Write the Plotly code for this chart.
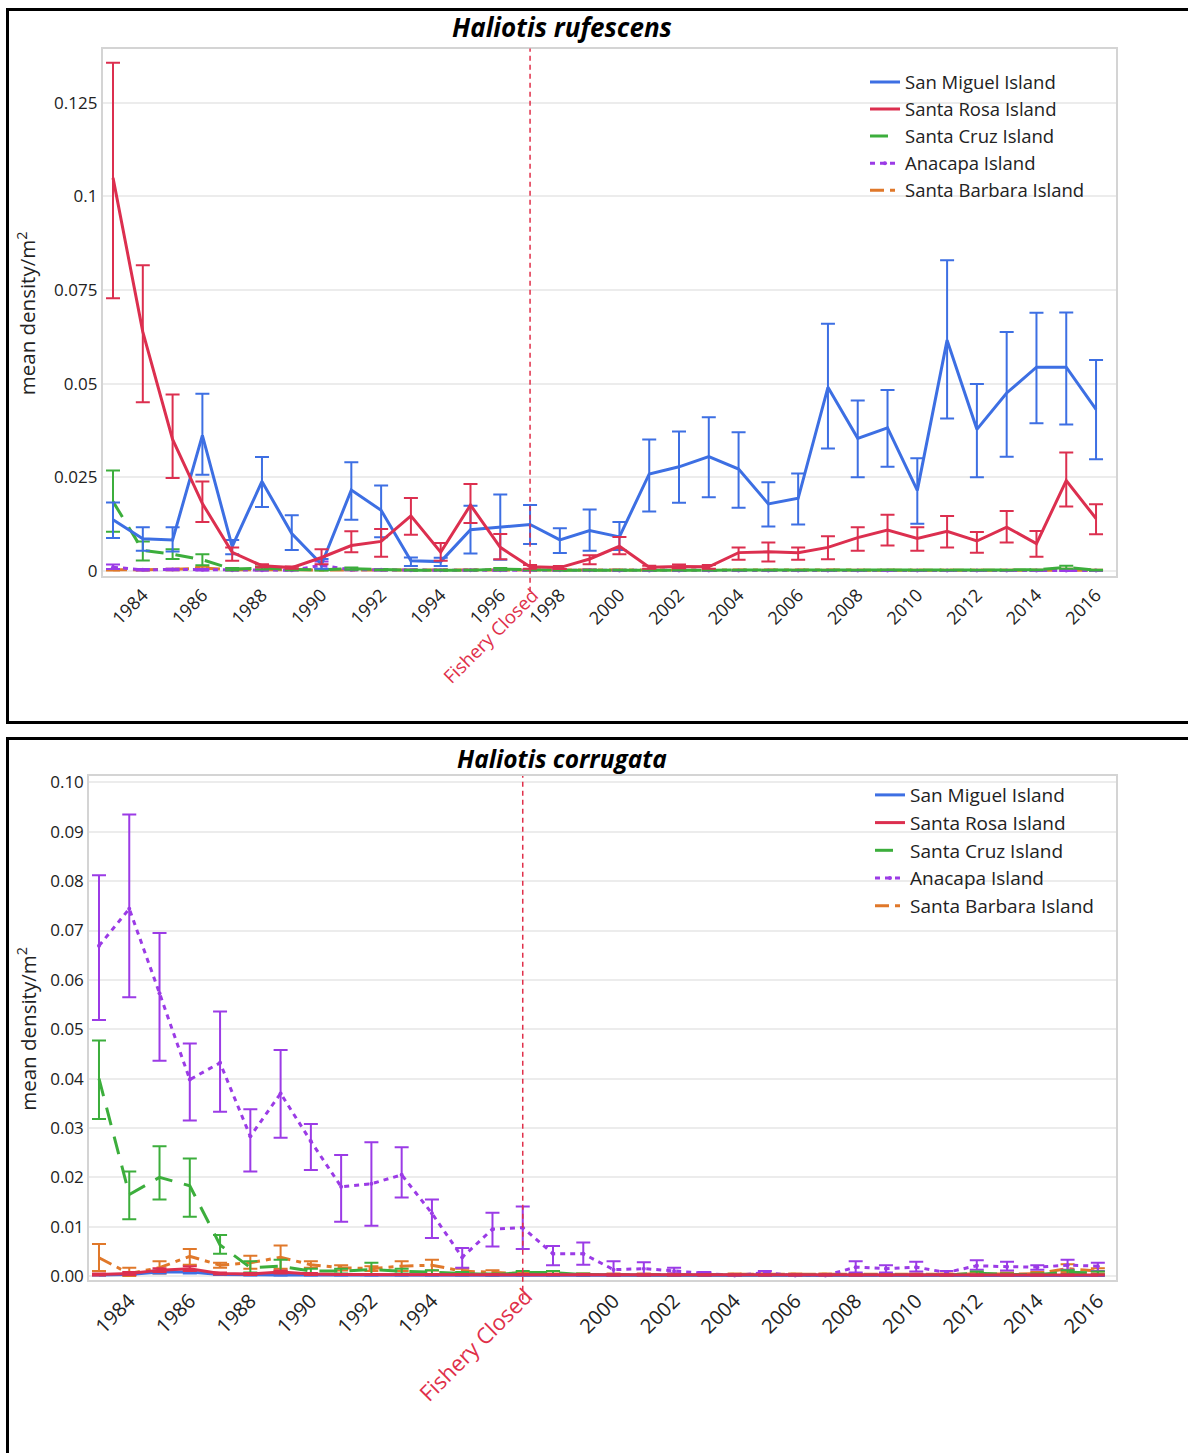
import numpy as np
import plotly.graph_objects as go

W, H = 1188, 1453
FONT = "Open Sans"

years = [1983, 1984, 1985, 1986, 1987, 1988, 1989, 1990, 1991, 1992, 1993, 1994,
         1995, 1996, 1997, 1998, 1999, 2000, 2001, 2002, 2003, 2004, 2005, 2006,
         2007, 2008, 2009, 2010, 2011, 2012, 2013, 2014, 2015, 2016]

islands = ["San Miguel Island", "Santa Rosa Island", "Santa Cruz Island",
           "Anacapa Island", "Santa Barbara Island"]

# ---------------- Haliotis rufescens ----------------
ruf_sm_mean = [0.0137, 0.0086, 0.0083, 0.0362, 0.0065, 0.0239, 0.0100, 0.0018, 0.0216, 0.0162, 0.0027, 0.0025,
               0.0110, 0.0117, 0.0124, 0.0083, 0.0108, 0.0091, 0.0259, 0.0278, 0.0305, 0.0272, 0.0179, 0.0194,
               0.0490, 0.0354, 0.0382, 0.0215, 0.0616, 0.0378, 0.0475, 0.0544, 0.0544, 0.0431]
ruf_sm_up = [0.0183, 0.0117, 0.0117, 0.0473, 0.0083, 0.0304, 0.0149, 0.0032, 0.0290, 0.0228, 0.0036, 0.0035,
             0.0174, 0.0204, 0.0176, 0.0114, 0.0164, 0.0131, 0.0351, 0.0372, 0.0410, 0.0370, 0.0237, 0.0260,
             0.0660, 0.0455, 0.0483, 0.0301, 0.0829, 0.0499, 0.0638, 0.0689, 0.0690, 0.0563]
ruf_sm_lo = [0.0088, 0.0054, 0.0052, 0.0257, 0.0045, 0.0171, 0.0056, 0.0006, 0.0137, 0.0090, 0.0013, 0.0013,
             0.0047, 0.0030, 0.0072, 0.0048, 0.0054, 0.0056, 0.0159, 0.0182, 0.0197, 0.0169, 0.0119, 0.0124,
             0.0327, 0.0250, 0.0278, 0.0126, 0.0407, 0.0250, 0.0305, 0.0394, 0.0391, 0.0298]

ruf_sr_mean = [0.1049, 0.0638, 0.0351, 0.0180, 0.0050, 0.0014, 0.0009, 0.0036, 0.0068, 0.0079, 0.0147, 0.0050,
               0.0176, 0.0063, 0.0011, 0.0009, 0.0032, 0.0066, 0.0010, 0.0012, 0.0011, 0.0049, 0.0051, 0.0049,
               0.0063, 0.0089, 0.0109, 0.0087, 0.0106, 0.0080, 0.0117, 0.0073, 0.0241, 0.0140]
ruf_sr_up = [0.1356, 0.0816, 0.0471, 0.0239, 0.0063, 0.0018, 0.0012, 0.0058, 0.0106, 0.0112, 0.0195, 0.0075,
             0.0232, 0.0099, 0.0016, 0.0013, 0.0042, 0.0091, 0.0014, 0.0017, 0.0016, 0.0063, 0.0076, 0.0063,
             0.0093, 0.0117, 0.0150, 0.0117, 0.0147, 0.0104, 0.0160, 0.0107, 0.0316, 0.0178]
ruf_sr_lo = [0.0728, 0.0450, 0.0248, 0.0131, 0.0027, 0.0010, 0.0006, 0.0018, 0.0050, 0.0038, 0.0097, 0.0027,
             0.0128, 0.0031, 0.0006, 0.0005, 0.0018, 0.0045, 0.0006, 0.0007, 0.0006, 0.0030, 0.0025, 0.0030,
             0.0031, 0.0054, 0.0068, 0.0054, 0.0063, 0.0049, 0.0076, 0.0038, 0.0172, 0.0098]

ruf_sc_mean = [0.0185, 0.0055, 0.0045, 0.0030, 0.0005, 0.0008, 0.0004, 0.0003, 0.0006, 0.0003, 0.0002, 0.0002,
               0.0002, 0.0005, 0.0003, 0.0002, 0.0002, 0.0002, 0.0002, 0.0002, 0.0002, 0.0002, 0.0002, 0.0002,
               0.0002, 0.0002, 0.0003, 0.0002, 0.0002, 0.0002, 0.0002, 0.0003, 0.0010, 0.0002]
ruf_sc_up = [0.0268, 0.0079, 0.0058, 0.0045, 0.0008, 0.0012, 0.0006, 0.0005, 0.0009, 0.0004, 0.0003, 0.0003,
             0.0003, 0.0008, 0.0004, 0.0003, 0.0003, 0.0003, 0.0003, 0.0003, 0.0003, 0.0003, 0.0003, 0.0003,
             0.0003, 0.0003, 0.0004, 0.0003, 0.0003, 0.0003, 0.0003, 0.0004, 0.0014, 0.0003]
ruf_sc_lo = [0.0105, 0.0028, 0.0032, 0.0015, 0.0002, 0.0004, 0.0002, 0.0001, 0.0003, 0.0002, 0.0001, 0.0001,
             0.0001, 0.0002, 0.0002, 0.0001, 0.0001, 0.0001, 0.0001, 0.0001, 0.0001, 0.0001, 0.0001, 0.0001,
             0.0001, 0.0001, 0.0002, 0.0001, 0.0001, 0.0001, 0.0001, 0.0002, 0.0006, 0.0001]

ruf_an_mean = [0.0010, 0.0003, 0.0004, 0.0003, 0.0002, 0.0002, 0.0002, 0.0015, 0.0003, 0.0003, 0.0002, 0.0002,
               0.0002, 0.0002, 0.0002, 0.0002, 0.0002, 0.0001, 0.0001, 0.0001, 0.0001, 0.0001, 0.0001, 0.0001,
               0.0001, 0.0001, 0.0001, 0.0001, 0.0001, 0.0001, 0.0001, 0.0001, 0.0001, 0.0001]
ruf_an_up = [0.0017, 0.0005, 0.0006, 0.0005, 0.0003, 0.0003, 0.0003, 0.0025, 0.0004, 0.0005, 0.0003, 0.0003,
             0.0003, 0.0003, 0.0003, 0.0003, 0.0003, 0.0002, 0.0002, 0.0002, 0.0002, 0.0002, 0.0002, 0.0002,
             0.0002, 0.0002, 0.0002, 0.0002, 0.0002, 0.0002, 0.0002, 0.0002, 0.0002, 0.0002]
ruf_an_lo = [0.0005, 0.0001, 0.0002, 0.0001, 0.0001, 0.0001, 0.0001, 0.0005, 0.0002, 0.0001, 0.0001, 0.0001,
             0.0001, 0.0001, 0.0001, 0.0001, 0.0001, 0.0000, 0.0000, 0.0000, 0.0000, 0.0000, 0.0000, 0.0000,
             0.0000, 0.0000, 0.0000, 0.0000, 0.0000, 0.0000, 0.0000, 0.0000, 0.0000, 0.0000]

ruf_sb_mean = [0.0003, 0.0003, 0.0004, 0.0008, 0.0003, 0.0003, 0.0003, 0.0003, 0.0003, 0.0003, 0.0003, 0.0003,
               0.0003, 0.0003, 0.0003, 0.0003, 0.0003, 0.0002, 0.0002, 0.0002, 0.0002, 0.0002, 0.0002, 0.0002,
               0.0002, 0.0002, 0.0002, 0.0002, 0.0002, 0.0002, 0.0002, 0.0002, 0.0004, 0.0002]
ruf_sb_up = [0.0005, 0.0005, 0.0006, 0.0011, 0.0004, 0.0004, 0.0004, 0.0004, 0.0004, 0.0004, 0.0004, 0.0004,
             0.0004, 0.0004, 0.0004, 0.0004, 0.0004, 0.0003, 0.0003, 0.0003, 0.0003, 0.0003, 0.0003, 0.0003,
             0.0003, 0.0003, 0.0003, 0.0003, 0.0003, 0.0003, 0.0003, 0.0003, 0.0006, 0.0003]
ruf_sb_lo = [0.0001, 0.0001, 0.0002, 0.0005, 0.0002, 0.0002, 0.0002, 0.0002, 0.0002, 0.0002, 0.0002, 0.0002,
             0.0002, 0.0002, 0.0002, 0.0002, 0.0002, 0.0001, 0.0001, 0.0001, 0.0001, 0.0001, 0.0001, 0.0001,
             0.0001, 0.0001, 0.0001, 0.0001, 0.0001, 0.0001, 0.0001, 0.0001, 0.0002, 0.0001]

# ---------------- Haliotis corrugata ----------------
cor_sm_mean = [0.0002, 0.0003, 0.0008, 0.0008, 0.0003, 0.0002, 0.0002, 0.0002, 0.0002, 0.0002, 0.0002, 0.0002,
               0.0002, 0.0002, 0.0002, 0.0002, 0.0002, 0.0001, 0.0001, 0.0001, 0.0001, 0.0001, 0.0001, 0.0001,
               0.0001, 0.0001, 0.0001, 0.0001, 0.0001, 0.0001, 0.0001, 0.0001, 0.0001, 0.0001]
cor_sm_up = [0.0003, 0.0004, 0.0011, 0.0011, 0.0004, 0.0003, 0.0003, 0.0003, 0.0003, 0.0003, 0.0003, 0.0003,
             0.0003, 0.0003, 0.0003, 0.0003, 0.0003, 0.0002, 0.0002, 0.0002, 0.0002, 0.0002, 0.0002, 0.0002,
             0.0002, 0.0002, 0.0002, 0.0002, 0.0002, 0.0002, 0.0002, 0.0002, 0.0002, 0.0002]
cor_sm_lo = [0.0001, 0.0002, 0.0005, 0.0005, 0.0002, 0.0001, 0.0001, 0.0001, 0.0001, 0.0001, 0.0001, 0.0001,
             0.0001, 0.0001, 0.0001, 0.0001, 0.0001, 0.0000, 0.0000, 0.0000, 0.0000, 0.0000, 0.0000, 0.0000,
             0.0000, 0.0000, 0.0000, 0.0000, 0.0000, 0.0000, 0.0000, 0.0000, 0.0000, 0.0000]

cor_sr_mean = [0.0003, 0.0005, 0.0012, 0.0015, 0.0005, 0.0004, 0.0008, 0.0004, 0.0003, 0.0003, 0.0003, 0.0003,
               0.0003, 0.0003, 0.0003, 0.0003, 0.0003, 0.0002, 0.0002, 0.0002, 0.0002, 0.0002, 0.0002, 0.0002,
               0.0002, 0.0002, 0.0002, 0.0002, 0.0002, 0.0002, 0.0002, 0.0002, 0.0002, 0.0002]
cor_sr_up = [0.0005, 0.0008, 0.0016, 0.0020, 0.0007, 0.0006, 0.0011, 0.0006, 0.0004, 0.0004, 0.0004, 0.0004,
             0.0004, 0.0004, 0.0004, 0.0004, 0.0004, 0.0003, 0.0003, 0.0003, 0.0003, 0.0003, 0.0003, 0.0003,
             0.0003, 0.0003, 0.0003, 0.0003, 0.0003, 0.0003, 0.0003, 0.0003, 0.0003, 0.0003]
cor_sr_lo = [0.0001, 0.0002, 0.0008, 0.0010, 0.0003, 0.0002, 0.0005, 0.0002, 0.0002, 0.0002, 0.0002, 0.0002,
             0.0002, 0.0002, 0.0002, 0.0002, 0.0002, 0.0001, 0.0001, 0.0001, 0.0001, 0.0001, 0.0001, 0.0001,
             0.0001, 0.0001, 0.0001, 0.0001, 0.0001, 0.0001, 0.0001, 0.0001, 0.0001, 0.0001]

cor_sc_mean = [0.0400, 0.0165, 0.0200, 0.0183, 0.0063, 0.0017, 0.0020, 0.0010, 0.0010, 0.0013, 0.0010, 0.0008,
               0.0005, 0.0003, 0.0007, 0.0007, 0.0003, 0.0002, 0.0002, 0.0002, 0.0002, 0.0002, 0.0002, 0.0002,
               0.0002, 0.0002, 0.0002, 0.0002, 0.0002, 0.0006, 0.0003, 0.0003, 0.0008, 0.0006]
cor_sc_up = [0.0477, 0.0212, 0.0263, 0.0238, 0.0083, 0.0030, 0.0033, 0.0015, 0.0015, 0.0027, 0.0015, 0.0012,
             0.0008, 0.0005, 0.0010, 0.0010, 0.0005, 0.0003, 0.0003, 0.0003, 0.0003, 0.0003, 0.0003, 0.0003,
             0.0003, 0.0003, 0.0003, 0.0003, 0.0003, 0.0009, 0.0005, 0.0005, 0.0012, 0.0009]
cor_sc_lo = [0.0318, 0.0115, 0.0155, 0.0120, 0.0045, 0.0007, 0.0010, 0.0005, 0.0005, 0.0003, 0.0005, 0.0004,
             0.0002, 0.0001, 0.0004, 0.0004, 0.0001, 0.0001, 0.0001, 0.0001, 0.0001, 0.0001, 0.0001, 0.0001,
             0.0001, 0.0001, 0.0001, 0.0001, 0.0001, 0.0003, 0.0001, 0.0001, 0.0004, 0.0003]

cor_an_mean = [0.0669, 0.0744, 0.0573, 0.0398, 0.0432, 0.0283, 0.0370, 0.0273, 0.0181, 0.0187, 0.0205, 0.0127,
               0.0038, 0.0095, 0.0098, 0.0045, 0.0045, 0.0013, 0.0015, 0.0010, 0.0005, 0.0001, 0.0007, 0.0001,
               0.0001, 0.0018, 0.0015, 0.0018, 0.0007, 0.0021, 0.0019, 0.0018, 0.0022, 0.0020]
cor_an_up = [0.0812, 0.0935, 0.0695, 0.0471, 0.0536, 0.0338, 0.0458, 0.0308, 0.0245, 0.0271, 0.0261, 0.0155,
             0.0057, 0.0128, 0.0141, 0.0061, 0.0068, 0.0030, 0.0028, 0.0017, 0.0008, 0.0002, 0.0010, 0.0002,
             0.0002, 0.0030, 0.0022, 0.0029, 0.0010, 0.0032, 0.0029, 0.0022, 0.0033, 0.0027]
cor_an_lo = [0.0519, 0.0565, 0.0436, 0.0315, 0.0333, 0.0212, 0.0280, 0.0215, 0.0110, 0.0102, 0.0159, 0.0077,
             0.0017, 0.0060, 0.0055, 0.0022, 0.0023, 0.0003, 0.0003, 0.0005, 0.0002, 0.0000, 0.0004, 0.0000,
             0.0000, 0.0007, 0.0007, 0.0009, 0.0004, 0.0013, 0.0011, 0.0013, 0.0013, 0.0010]

cor_sb_mean = [0.0037, 0.0005, 0.0017, 0.0040, 0.0022, 0.0027, 0.0038, 0.0023, 0.0017, 0.0015, 0.0020, 0.0022,
               0.0010, 0.0007, 0.0005, 0.0003, 0.0003, 0.0003, 0.0003, 0.0003, 0.0003, 0.0003, 0.0003, 0.0003,
               0.0003, 0.0003, 0.0003, 0.0003, 0.0003, 0.0004, 0.0004, 0.0005, 0.0015, 0.0010]
cor_sb_up = [0.0065, 0.0017, 0.0030, 0.0055, 0.0027, 0.0041, 0.0062, 0.0030, 0.0022, 0.0020, 0.0030, 0.0033,
             0.0015, 0.0012, 0.0008, 0.0005, 0.0005, 0.0005, 0.0005, 0.0005, 0.0005, 0.0005, 0.0005, 0.0005,
             0.0005, 0.0005, 0.0005, 0.0005, 0.0005, 0.0007, 0.0007, 0.0008, 0.0024, 0.0016]
cor_sb_lo = [0.0010, 0.0000, 0.0005, 0.0023, 0.0017, 0.0015, 0.0015, 0.0017, 0.0011, 0.0010, 0.0010, 0.0011,
             0.0005, 0.0003, 0.0002, 0.0001, 0.0001, 0.0001, 0.0001, 0.0001, 0.0001, 0.0001, 0.0001, 0.0001,
             0.0001, 0.0001, 0.0001, 0.0001, 0.0001, 0.0002, 0.0002, 0.0002, 0.0008, 0.0005]

top_xticks = [1984, 1986, 1988, 1990, 1992, 1994, 1996, 1998, 2000, 2002, 2004, 2006, 2008, 2010, 2012, 2014, 2016]
bot_xticks = [1984, 1986, 1988, 1990, 1992, 1994, 2000, 2002, 2004, 2006, 2008, 2010, 2012, 2014, 2016]
top_yticks = [0, 0.025, 0.05, 0.075, 0.1, 0.125]
top_yticklabels = ["0", "0.025", "0.05", "0.075", "0.1", "0.125"]
bot_yticks = [0.00, 0.01, 0.02, 0.03, 0.04, 0.05, 0.06, 0.07, 0.08, 0.09, 0.10]
closure_year = 1997

colors = ["#3d6fe3", "#dc2f4f", "#3cae3c", "#9b3be6", "#e0782a"]
dashes = ["solid", "solid", "18px,12px", "5px,5px", "14px,6px,5px,6px"]

top_series = [(ruf_sm_mean, ruf_sm_up, ruf_sm_lo), (ruf_sr_mean, ruf_sr_up, ruf_sr_lo),
              (ruf_sc_mean, ruf_sc_up, ruf_sc_lo), (ruf_an_mean, ruf_an_up, ruf_an_lo),
              (ruf_sb_mean, ruf_sb_up, ruf_sb_lo)]
bot_series = [(cor_sm_mean, cor_sm_up, cor_sm_lo), (cor_sr_mean, cor_sr_up, cor_sr_lo),
              (cor_sc_mean, cor_sc_up, cor_sc_lo), (cor_an_mean, cor_an_up, cor_an_lo),
              (cor_sb_mean, cor_sb_up, cor_sb_lo)]

fig = go.Figure()


def add_panel(series, xa, ya, legend_name, draw_order):
    for i in draw_order:
        mean, up, lo = series[i]
        m = np.array(mean)
        fig.add_trace(go.Scatter(
            x=years, y=mean, name=islands[i], mode="lines+markers" if i == 3 else "lines",
            marker=dict(size=4, color=colors[i]),
            line=dict(color=colors[i], width=3, dash=dashes[i]),
            error_y=dict(type="data", symmetric=False,
                         array=(np.array(up) - m).tolist(),
                         arrayminus=(m - np.array(lo)).tolist(),
                         color=colors[i], thickness=2, width=7),
            xaxis=xa, yaxis=ya, legend=legend_name, legendrank=i + 1,
        ))


order = [4, 3, 2, 0, 1]
add_panel(top_series, "x", "y", "legend", order)
add_panel(bot_series, "x2", "y2", "legend2", order)


def px_x(p):
    return p / W


def px_y(p):
    return 1 - p / H


axis_common = dict(showline=True, linecolor="#d4d4d4", linewidth=1.5, mirror=True,
                   zeroline=False, color="#222222")

fig.update_layout(
    width=W, height=H,
    margin=dict(l=0, r=0, t=0, b=0),
    paper_bgcolor="white", plot_bgcolor="white",
    font=dict(family=FONT, color="#222222"),
    xaxis=dict(domain=[px_x(102.6), px_x(1116)], range=[1982.65, 2016.67], anchor="y",
               tickvals=top_xticks, ticktext=[str(t) for t in top_xticks], tickangle=-45,
               tickfont=dict(size=18), showgrid=False, ticks="", **axis_common),
    yaxis=dict(domain=[px_y(575), px_y(43)], range=[-0.0013, 0.1394], anchor="x",
               tickvals=top_yticks, ticktext=top_yticklabels, tickfont=dict(size=17),
               showgrid=True, gridcolor="#ececec", gridwidth=1.5, ticks="", **axis_common),
    xaxis2=dict(domain=[px_x(89), px_x(1116)], range=[1982.67, 2016.6], anchor="y2",
                tickvals=bot_xticks, ticktext=[str(t) for t in bot_xticks], tickangle=-45,
                tickfont=dict(size=20), showgrid=False, ticks="", **axis_common),
    yaxis2=dict(domain=[px_y(1285), px_y(777)], range=[-0.0007, 0.1013], anchor="x2",
                tickvals=bot_yticks, tickformat=".2f", tickfont=dict(size=17),
                showgrid=True, gridcolor="#ececec", gridwidth=1.5, ticks="", **axis_common),
    legend=dict(x=px_x(865), y=px_y(58), xanchor="left", yanchor="top",
                bgcolor="rgba(0,0,0,0)", font=dict(size=18.5, family=FONT), tracegroupgap=0,
                traceorder="normal"),
    legend2=dict(x=px_x(870), y=px_y(777), xanchor="left", yanchor="top",
                 bgcolor="rgba(0,0,0,0)", font=dict(size=19, family=FONT), tracegroupgap=0,
                 traceorder="normal"),
    showlegend=True,
)

# outer panel frames
fig.add_shape(type="rect", xref="paper", yref="paper", x0=px_x(7.5), x1=px_x(1200),
              y0=px_y(723), y1=px_y(3.5), line=dict(color="black", width=3), layer="above")
fig.add_shape(type="rect", xref="paper", yref="paper", x0=px_x(7.5), x1=px_x(1200),
              y0=px_y(1470), y1=px_y(739), line=dict(color="black", width=3), layer="above")

# fishery closure lines
fig.add_shape(type="line", xref="x", yref="y domain", x0=closure_year, x1=closure_year,
              y0=-0.03, y1=1, line=dict(color="#e0304a", width=1.5, dash="5px,4px"))
fig.add_shape(type="line", xref="x2", yref="y2 domain", x0=closure_year, x1=closure_year,
              y0=-0.04, y1=1, line=dict(color="#e0304a", width=1.5, dash="5px,4px"))

annotations = [
    dict(text="<b><i>Haliotis rufescens</i></b>", x=px_x(562), y=px_y(21), xref="paper", yref="paper",
         showarrow=False, font=dict(size=26, family=FONT, color="black"), xanchor="center", yanchor="middle"),
    dict(text="<b><i>Haliotis corrugata</i></b>", x=px_x(562), y=px_y(759), xref="paper", yref="paper",
         showarrow=False, font=dict(size=24.5, family=FONT, color="black"), xanchor="center", yanchor="middle"),
    dict(text="mean density/m<sup>2</sup>", x=px_x(27), y=px_y(310), xref="paper", yref="paper",
         showarrow=False, textangle=-90, font=dict(size=20.5, family=FONT, color="#222222"),
         xanchor="center", yanchor="middle"),
    dict(text="mean density/m<sup>2</sup>", x=px_x(27), y=px_y(1032), xref="paper", yref="paper",
         showarrow=False, textangle=-90, font=dict(size=20.5, family=FONT, color="#222222"),
         xanchor="center", yanchor="middle"),
    dict(text="Fishery Closed", x=px_x(490), y=px_y(635), xref="paper", yref="paper",
         showarrow=False, textangle=-45, font=dict(size=18.5, family=FONT, color="#e0304a"),
         xanchor="center", yanchor="middle"),
    dict(text="Fishery Closed", x=px_x(475), y=px_y(1350), xref="paper", yref="paper",
         showarrow=False, textangle=-45, font=dict(size=22, family=FONT, color="#e0304a"),
         xanchor="center", yanchor="middle"),
]
fig.update_layout(annotations=annotations)

fig.write_html("out.html", config={"displayModeBar": False},
               post_script="document.body.style.margin='0';")
